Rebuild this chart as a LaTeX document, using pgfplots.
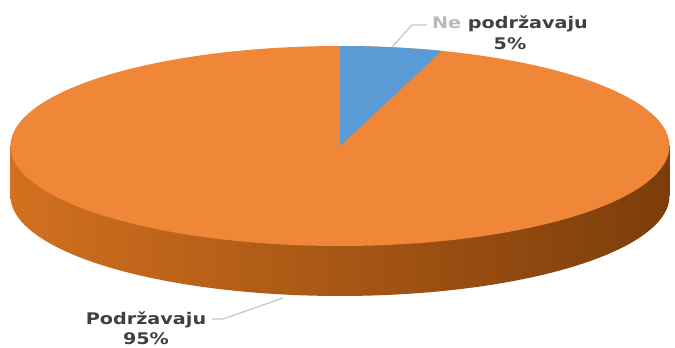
\documentclass[border=0pt]{standalone}
\usepackage{pgfplots}
\pgfplotsset{compat=1.18}
\usepackage{fontspec}
\setmainfont{DejaVu Sans}
\definecolor{topor}{HTML}{EF8638}
\definecolor{sideL}{HTML}{D2701F}
\definecolor{sideM}{HTML}{B05812}
\definecolor{sideR}{HTML}{7C3D0A}
\definecolor{blueS}{HTML}{5B9BD5}
\definecolor{labgray}{HTML}{404040}
\definecolor{leader}{HTML}{C8C8C8}
\begin{document}
\begin{tikzpicture}
% pie values (percent)
\pgfmathsetmacro{\vA}{5}   % Ne podržavaju
\pgfmathsetmacro{\vB}{95}  % Podržavaju
\pgfmathsetmacro{\angA}{3.6*\vA}
% geometry (pixels)
\pgfmathsetmacro{\cx}{340}
\pgfmathsetmacro{\cy}{202}
\pgfmathsetmacro{\a}{329.5}
\pgfmathsetmacro{\b}{100}
\pgfmathsetmacro{\d}{50}
\pgfmathsetmacro{\xl}{\cx-\a}
\pgfmathsetmacro{\xr}{\cx+\a}
\pgfmathsetmacro{\yl}{\cy-\d}
\begin{axis}[width=675pt,height=348pt,scale only axis,
  xmin=0,xmax=675,ymin=0,ymax=348,axis lines=none,clip=false]
% side of the pie
\addplot[draw=none,left color=sideL,middle color=sideM,right color=sideR,
  domain=0:360,samples=180] ({\cx+\a*cos(x)},{\yl+\b*sin(x)});
\addplot[draw=none,left color=sideL,middle color=sideM,right color=sideR]
  coordinates {(\xl,\yl) (\xr,\yl) (\xr,\cy) (\xl,\cy)} -- cycle;
% top face (Podržavaju, 95%)
\addplot[fill=topor,draw=none,domain=0:360,samples=240]
  ({\cx+\a*cos(x)},{\cy+\b*sin(x)});
% Ne podržavaju slice (5%)
\addplot[fill=blueS,draw=none,samples at={-1,0,0.5,...,\angA}]
  ({x<0 ? \cx : \cx+\a*cos(90-x)},{x<0 ? \cy : \cy+\b*sin(90-x)});
% leader lines
\addplot[leader,line width=1.3pt] coordinates {(427,323) (412,323) (392,301)};
\addplot[leader,line width=1.3pt] coordinates {(212,29) (223,29) (283,50)};
% labels
\node[font=\fontsize{16}{21}\selectfont\bfseries,text=labgray,align=center,
  xscale=1.2,inner sep=0pt] at (axis cs:510,315.5)
  {{\color{gray!55}Ne} podržavaju\\5\%};
\node[font=\fontsize{16}{20}\selectfont\bfseries,text=labgray,align=center,
  xscale=1.2,inner sep=0pt] at (axis cs:146,20)
  {Podržavaju\\95\%};
\end{axis}
\pgfresetboundingbox
\path (current axis.south west) rectangle (current axis.north east);
\end{tikzpicture}
\end{document}
